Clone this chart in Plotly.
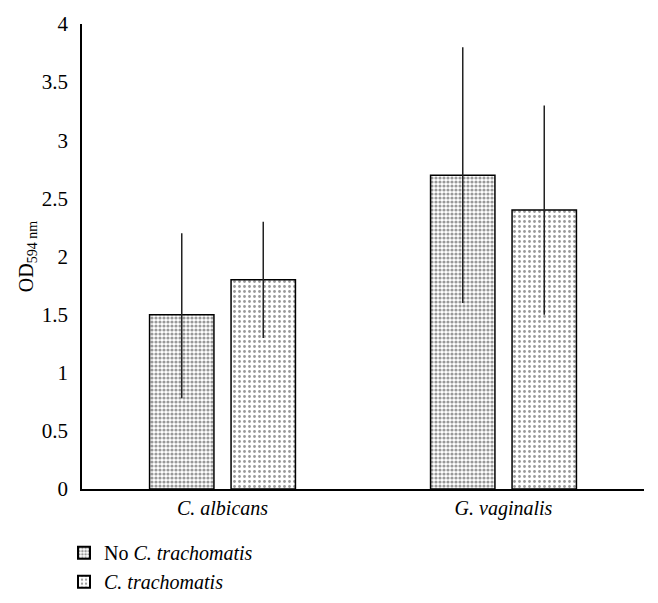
import plotly.graph_objects as go

categories = ["<i>C. albicans</i>", "<i>G. vaginalis</i>"]
no_ct = [1.5, 2.7]
no_ct_plus = [0.7, 1.1]
no_ct_minus = [0.72, 1.1]
ct = [1.8, 2.4]
ct_plus = [0.5, 0.9]
ct_minus = [0.5, 0.9]
y_ticks = [0, 0.5, 1, 1.5, 2, 2.5, 3, 3.5, 4]

font = "Liberation Serif"

fig = go.Figure()
fig.add_trace(go.Bar(
    x=categories, y=no_ct, name="No <i>C. trachomatis</i>",
    marker=dict(color="white", line=dict(color="black", width=1.5),
                pattern=dict(shape=".", fgcolor="#333", bgcolor="white", size=4, solidity=0.5)),
    error_y=dict(type="data", array=no_ct_plus, arrayminus=no_ct_minus,
                 color="#222", thickness=1.5, width=0),
))
fig.add_trace(go.Bar(
    x=categories, y=ct, name="<i>C. trachomatis</i>",
    marker=dict(color="white", line=dict(color="black", width=1.5),
                pattern=dict(shape=".", fgcolor="#333", bgcolor="white", size=5, solidity=0.25)),
    error_y=dict(type="data", array=ct_plus, arrayminus=ct_minus,
                 color="#222", thickness=1.5, width=0),
))

fig.update_layout(
    width=658, height=603,
    margin=dict(l=74, r=22, t=16, b=122, autoexpand=False),
    paper_bgcolor="white", plot_bgcolor="white",
    font=dict(family=font, size=20, color="black"),
    barmode="group", bargap=0.42, bargroupgap=0.21,
    showlegend=True,
    legend=dict(x=-0.032, y=-0.095, xanchor="left", yanchor="top",
                orientation="v", font=dict(family=font, size=20),
                tracegroupgap=0, itemsizing="constant", itemwidth=30),
    xaxis=dict(showline=True, linecolor="black", linewidth=1.5, ticks="",
               showgrid=False, tickfont=dict(size=20), automargin=False),
    yaxis=dict(range=[0, 4], tickvals=y_ticks, ticktext=[f"{v:g}" for v in y_ticks],
               showline=True, linecolor="black", linewidth=1.5, ticks="",
               ticklabelstandoff=8,
               showgrid=False, zeroline=False, tickfont=dict(size=21), automargin=False,
               title=dict(text="OD<sub>594 nm</sub>", font=dict(size=20), standoff=3)),
)

fig.write_html("out.html")
